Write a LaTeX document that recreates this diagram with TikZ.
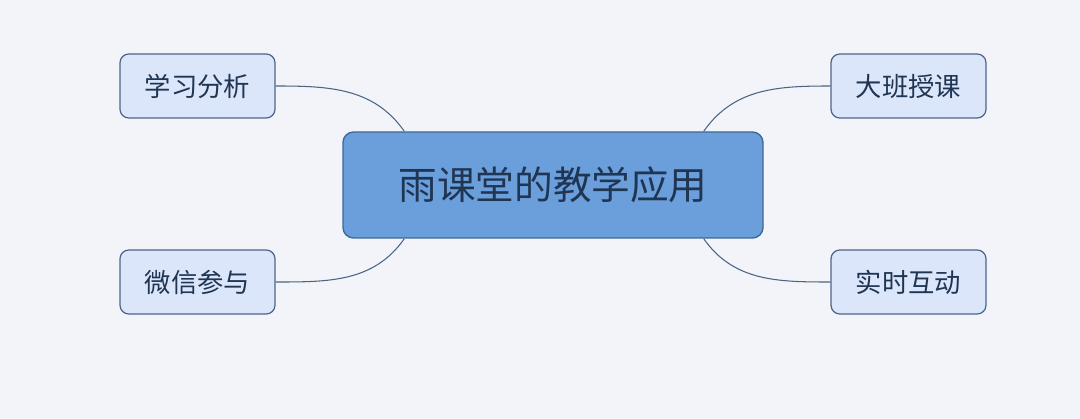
\documentclass[tikz,border=0pt]{standalone}
\usepackage{fontspec}
\setmainfont{Noto Sans CJK SC}
\usetikzlibrary{positioning}
\definecolor{bgcol}{HTML}{F2F4F9}
\definecolor{maincol}{HTML}{6A9FDC}
\definecolor{mainline}{HTML}{3F6898}
\definecolor{subcol}{HTML}{DCE6FB}
\definecolor{subline}{HTML}{4D6688}
\definecolor{txtcol}{HTML}{1F3552}
\definecolor{linkcol}{HTML}{4A6584}
\begin{document}
\begin{tikzpicture}
\tikzset{topic/.style={draw=mainline, fill=maincol, rounded corners=6pt, line width=0.8pt,
		minimum width=8.4cm, minimum height=2.12cm, font=\fontsize{22}{26}\selectfont, text=txtcol},
	subtopic/.style={draw=subline, fill=subcol, rounded corners=5pt, line width=0.7pt,
		minimum width=3.1cm, minimum height=1.28cm, font=\fontsize{15}{18}\selectfont, text=txtcol},
	link/.style={draw=linkcol, line width=0.6pt}}
	\fill[bgcol] (0,0) rectangle (21.6,-8.38);
	\useasboundingbox (0,0) rectangle (21.6,-8.38);
	\node[topic] (main) at (11.06,-3.7) {雨课堂的教学应用};
	\node[subtopic] (analysis) at (3.95,-1.72) {学习分析};
	\node[subtopic] (wechat) at (3.95,-5.64) {微信参与};
	\node[subtopic] (lecture) at (18.17,-1.72) {大班授课};
	\node[subtopic] (interact) at (18.17,-5.64) {实时互动};
	% connectors
	\draw[link] (analysis.east) to[out=0, in=125] ([xshift=1.24cm]main.north west);
	\draw[link] (wechat.east) to[out=0, in=-125] ([xshift=1.24cm]main.south west);
	\draw[link] (lecture.west) to[out=180, in=55] ([xshift=-1.2cm]main.north east);
	\draw[link] (interact.west) to[out=180, in=-55] ([xshift=-1.2cm]main.south east);
\end{tikzpicture}
\end{document}
